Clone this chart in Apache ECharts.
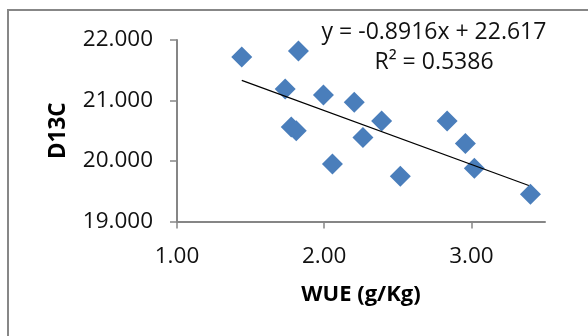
<!DOCTYPE html>
<html>
<head>
<meta charset="utf-8">
<script src="https://cdn.jsdelivr.net/npm/echarts@6/dist/echarts.min.js"></script>
<style>
html, body { margin: 0; padding: 0; background: #fff; }
#main { width: 588px; height: 336px; }
</style>
</head>
<body>
<div id="main"></div>
<script>
var wue = [1.44, 1.825, 1.735, 1.995, 2.204, 2.39, 1.776, 1.81, 2.263, 2.056, 2.517, 2.835, 2.959, 3.02, 3.401];
var d13c = [21.72, 21.82, 21.19, 21.09, 20.97, 20.66, 20.56, 20.50, 20.39, 19.95, 19.75, 20.66, 20.29, 19.88, 19.45];
var xTicks = [1, 2, 3];
var yTicks = [19, 20, 21, 22];
var slope = -0.8916;
var intercept = 22.617;
var trendX = [1.44, 3.39];

var chartDom = document.getElementById('main');
var myChart = echarts.init(chartDom);
var option;

var points = wue.map(function (x, i) { return [x, d13c[i]]; });
var trend = trendX.map(function (x) { return [x, slope * x + intercept]; });

var font = 'Open Sans';

option = {
    animation: false,
    grid: {
        left: 177,
        top: 40,
        right: 43,
        bottom: 114.5
    },
    xAxis: {
        type: 'value',
        min: 1,
        max: 3.5,
        interval: 1,
        name: 'WUE (g/Kg)',
        nameLocation: 'middle',
        nameGap: 62,
        nameTextStyle: {
            color: '#000',
            fontFamily: font,
            fontWeight: 'bold',
            fontSize: 22
        },
        splitLine: { show: false },
        axisLine: {
            lineStyle: { color: '#868686', width: 2 }
        },
        axisTick: {
            show: true,
            length: 7,
            customValues: xTicks,
            lineStyle: { color: '#868686', width: 1.5 }
        },
        axisLabel: {
            customValues: xTicks,
            margin: 24,
            color: '#111',
            fontFamily: font,
            fontSize: 22.5,
            formatter: function (v) { return v.toFixed(2); }
        }
    },
    yAxis: {
        type: 'value',
        min: 19,
        max: 22,
        interval: 1,
        name: 'D13C',
        nameLocation: 'middle',
        nameRotate: 90,
        nameGap: 107,
        nameTextStyle: {
            color: '#000',
            fontFamily: font,
            fontWeight: 'bold',
            fontSize: 22.5
        },
        splitLine: { show: false },
        axisLine: {
            show: true,
            lineStyle: { color: '#868686', width: 2 }
        },
        axisTick: {
            show: true,
            length: 7,
            lineStyle: { color: '#868686', width: 1.5 }
        },
        axisLabel: {
            margin: 24,
            color: '#111',
            fontFamily: font,
            fontSize: 22.5,
            formatter: function (v) { return v.toFixed(3); }
        }
    },
    graphic: [
        {
            type: 'rect',
            shape: { x: 8, y: 10, width: 620, height: 400 },
            style: { fill: 'none', stroke: '#878787', lineWidth: 2 },
            silent: true
        },
        {
            type: 'text',
            x: 434,
            y: 32,
            style: {
                text: 'y = -0.8916x + 22.617',
                fill: '#111',
                font: '23px "Open Sans"',
                align: 'center',
                verticalAlign: 'middle'
            }
        },
        {
            type: 'text',
            x: 434,
            y: 62,
            style: {
                text: 'R² = 0.5386',
                fill: '#111',
                font: '23px "Open Sans"',
                align: 'center',
                verticalAlign: 'middle'
            }
        }
    ],
    series: [
        {
            type: 'scatter',
            data: points,
            symbol: 'diamond',
            symbolSize: 21,
            itemStyle: { color: '#4a7ebb', opacity: 1 },
            z: 2
        },
        {
            type: 'line',
            data: trend,
            symbol: 'none',
            lineStyle: { color: '#000', width: 1.2 },
            z: 3
        }
    ]
};

option && myChart.setOption(option);

window.addEventListener('resize', myChart.resize);
</script>
</body>
</html>
